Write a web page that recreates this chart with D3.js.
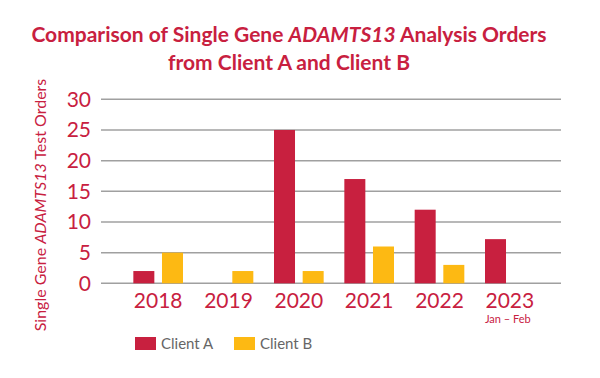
<!DOCTYPE html>
<html><head><meta charset="utf-8">
<script src="https://cdn.jsdelivr.net/npm/d3@7"></script>
<style>body{margin:0;background:#fff}svg{display:block}text{font-family:Lato,"Open Sans",sans-serif}</style>
</head><body><svg id="c" width="600" height="378"></svg>
<script>
const years = ["2018","2019","2020","2021","2022","2023"];
const clientA = [2, 0, 25, 17, 12, 7.2];
const clientB = [5, 2, 2, 6, 3, 0];
const seriesNames = ["Client A","Client B"];
const yTicks = [0,5,10,15,20,25,30];
const colors = ["#C8203F","#FDB913"];
const red = "#C8203F";

const svg = d3.select("#c");
const y = d3.scaleLinear().domain([0,30]).range([283.3,99.3]);
const x = d3.scaleBand().domain(years).range([123,545]).paddingInner(0.294).paddingOuter(0.147);
const xs = d3.scaleBand().domain(seriesNames).range([0,x.bandwidth()]).paddingInner(0.267).paddingOuter(0);

// grid
svg.append("g").selectAll("line").data(yTicks).join("line")
  .attr("x1",101).attr("x2",561).attr("y1",d=>y(d)).attr("y2",d=>y(d))
  .attr("stroke","#a0a0a0").attr("stroke-width",1.5);

// y ticks
svg.append("g").selectAll("text").data(yTicks).join("text")
  .attr("x",91).attr("y",d=>y(d)+7.5).attr("text-anchor","end")
  .attr("fill",red).attr("font-size",21).text(d=>d);

// bars
const data = years.map((yr,i)=>({yr, vals:[clientA[i],clientB[i]]}));
const g = svg.append("g").selectAll("g").data(data).join("g")
  .attr("transform",d=>`translate(${x(d.yr)},0)`);
g.selectAll("rect").data(d=>d.vals.map((v,j)=>({v,s:seriesNames[j],j}))).join("rect")
  .filter(d=>d.v>0)
  .attr("x",d=>xs(d.s)).attr("width",xs.bandwidth())
  .attr("y",d=>y(d.v)).attr("height",d=>y(0)-y(d.v))
  .attr("fill",d=>colors[d.j]);

// x labels
svg.append("g").selectAll("text").data(years).join("text")
  .attr("x",d=>x(d)+x.bandwidth()/2).attr("y",308)
  .attr("text-anchor","middle").attr("fill",red).attr("font-size",21).text(d=>d);
svg.append("text").attr("x",x("2023")+x.bandwidth()/2-2).attr("y",323)
  .attr("text-anchor","middle").attr("fill",red).attr("font-size",11).text("Jan – Feb");

// title
const t = svg.append("text").attr("text-anchor","middle").attr("fill",red)
  .attr("font-size",21).attr("font-weight","bold");
const l1 = t.append("tspan").attr("x",289).attr("y",42);
l1.append("tspan").text("Comparison of Single Gene ");
l1.append("tspan").attr("font-style","italic").text("ADAMTS13");
l1.append("tspan").text(" Analysis Orders");
t.append("tspan").attr("x",289).attr("y",70).text("from Client A and Client B");

// y axis title
const yt = svg.append("text").attr("transform","translate(46,205) rotate(-90)")
  .attr("text-anchor","middle").attr("fill",red).attr("font-size",16);
yt.append("tspan").text("Single Gene ");
yt.append("tspan").attr("font-style","italic").text("ADAMTS13");
yt.append("tspan").text(" Test Orders");

// legend
const lg = svg.append("g").selectAll("g").data(seriesNames).join("g")
  .attr("transform",(d,i)=>`translate(${135+i*99},337)`);
lg.append("rect").attr("width",21).attr("height",13).attr("fill",(d,i)=>colors[i]);
lg.append("text").attr("x",26).attr("y",12).attr("fill","#666").attr("font-size",15).text(d=>d);
</script></body></html>
